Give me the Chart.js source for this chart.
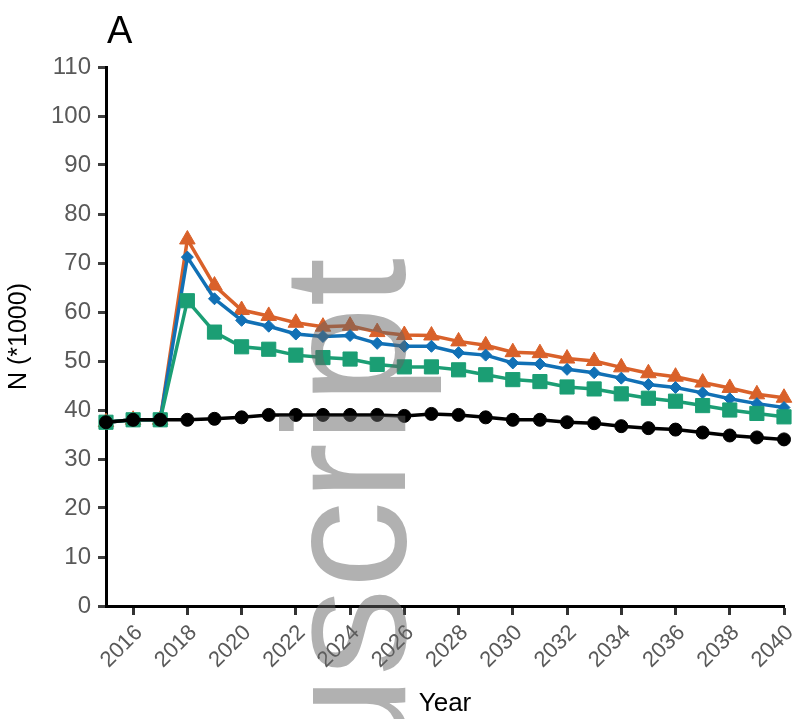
<!DOCTYPE html>
<html>
<head>
<meta charset="utf-8">
<script src="https://cdn.jsdelivr.net/npm/chart.js@4.4.1/dist/chart.umd.min.js"></script>
<style>
    html, body { margin: 0; padding: 0; background: #fff; }
    #wrap { width: 795px; height: 719px; }
</style>
</head>
<body>
<div id="wrap"><canvas id="chart" width="795" height="719"></canvas></div>
<script>
// chart data (N in thousands)
const years = [2015, 2016, 2017, 2018, 2019, 2020, 2021, 2022, 2023, 2024, 2025, 2026, 2027,
    2028, 2029, 2030, 2031, 2032, 2033, 2034, 2035, 2036, 2037, 2038, 2039, 2040];
const xTicks = [2016, 2018, 2020, 2022, 2024, 2026, 2028, 2030, 2032, 2034, 2036, 2038, 2040];

const orangeVals = [37.5, 38, 38, 74.8, 65.4, 60.4, 59.2, 57.8, 57.0, 57.2, 55.9, 55.3, 55.2,
    54.0, 53.2, 51.8, 51.6, 50.5, 50.0, 48.7, 47.5, 46.8, 45.6, 44.5, 43.2, 42.5];
const blueVals = [37.5, 38, 38, 71.2, 62.7, 58.3, 57.1, 55.5, 55.0, 55.2, 53.6, 53.0, 53.0,
    51.7, 51.2, 49.6, 49.4, 48.3, 47.6, 46.5, 45.2, 44.6, 43.5, 42.3, 41.3, 40.5];
const greenVals = [37.5, 38, 38, 62.3, 55.9, 52.9, 52.4, 51.2, 50.7, 50.4, 49.3, 48.8, 48.8,
    48.2, 47.2, 46.2, 45.8, 44.7, 44.3, 43.3, 42.4, 41.8, 40.9, 40.0, 39.3, 38.6];
const blackVals = [37.5, 38, 38, 38, 38.2, 38.5, 39.0, 39.0, 39.0, 39.0, 39.0, 38.8, 39.2,
    39.0, 38.5, 38.0, 38.0, 37.5, 37.3, 36.7, 36.3, 36.0, 35.4, 34.8, 34.4, 34.0];

const FONT = '"Liberation Sans", Arial, sans-serif';

function toXY(vals) {
    return vals.map((v, i) => ({ x: years[i], y: v }));
}

function series(vals, color, style, radius) {
    return {
        data: toXY(vals),
        borderColor: color,
        backgroundColor: color,
        borderWidth: 3.5,
        pointStyle: style,
        pointRadius: radius,
        pointBorderWidth: 1,
        tension: 0,
        clip: false
    };
}

// panel letter + manuscript watermark
const extras = {
    id: 'extras',
    afterDraw(chart) {
        const ctx = chart.ctx;
        ctx.save();
        ctx.fillStyle = '#000';
        ctx.font = '38px ' + FONT;
        ctx.textBaseline = 'alphabetic';
        ctx.fillText('A', chart.chartArea.left + 1, 43);

        ctx.translate(405, 258);
        ctx.rotate(-Math.PI / 2);
        ctx.font = '175px ' + FONT;
        ctx.fillStyle = 'rgba(100, 100, 100, 0.5)';
        ctx.textAlign = 'right';
        ctx.fillText('Manuscript', 0, 0);
        ctx.restore();
    }
};

const ctx = document.getElementById('chart').getContext('2d');
new Chart(ctx, {
    type: 'line',
    data: {
        datasets: [
            series(blackVals, '#000000', 'circle', 6.5),
            series(greenVals, '#1b9e74', 'rect', 10),
            series(blueVals, '#1170b5', 'rectRot', 6),
            series(orangeVals, '#d9612a', 'triangle', 9)
        ]
    },
    options: {
        responsive: false,
        animation: false,
        layout: {
            padding: { top: 67, right: 10, left: 0, bottom: 0 }
        },
        plugins: {
            legend: { display: false },
            tooltip: { enabled: false }
        },
        scales: {
            x: {
                type: 'linear',
                min: 2015,
                max: 2040,
                afterBuildTicks: axis => { axis.ticks = xTicks.map(v => ({ value: v })); },
                afterFit: scale => {
                    scale.height = 113;
                    scale.paddingRight = 0;
                },
                ticks: {
                    color: '#595959',
                    font: { size: 22, family: FONT },
                    minRotation: 45,
                    maxRotation: 45,
                    autoSkip: false,
                    padding: 5,
                    labelOffset: 6,
                    callback: v => String(v)
                },
                grid: { drawOnChartArea: false, drawTicks: true, tickLength: 9, tickWidth: 3, tickColor: '#333' },
                border: { display: true, color: '#000', width: 3 },
                title: { display: true, text: 'Year', color: '#000', font: { size: 26, family: FONT }, padding: 0 }
            },
            y: {
                min: 0,
                max: 110,
                afterFit: scale => { scale.width = 106; },
                ticks: {
                    stepSize: 10,
                    color: '#595959',
                    font: { size: 24, family: FONT },
                    padding: 7
                },
                grid: { drawOnChartArea: false, drawTicks: true, tickLength: 8, tickWidth: 3, tickColor: '#404040' },
                border: { display: true, color: '#000', width: 3 },
                title: { display: true, text: 'N (*1000)', color: '#000', font: { size: 25, family: FONT }, padding: { top: 4, bottom: 0 } }
            }
        }
    },
    plugins: [extras]
});
</script>
</body>
</html>
